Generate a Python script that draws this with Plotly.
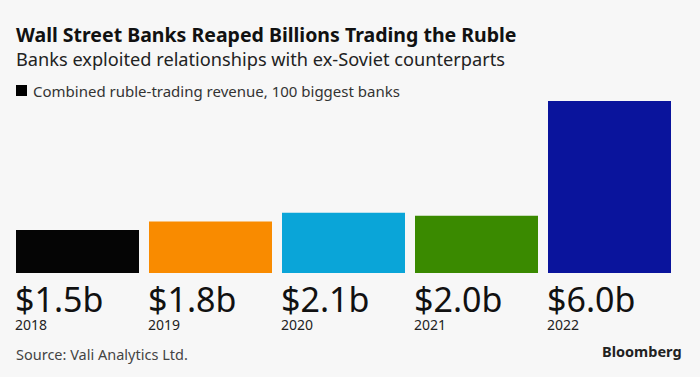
import plotly.graph_objects as go

years = ["2018", "2019", "2020", "2021", "2022"]
revenue = [1.5, 1.8, 2.1, 2.0, 6.0]
value_labels = ["$1.5b", "$1.8b", "$2.1b", "$2.0b", "$6.0b"]
colors = ["#050505", "#f98b00", "#0aa5d8", "#3a8a00", "#0a149c"]

FONT = "Source Sans Pro, Noto Sans, sans-serif"
BG = "#f7f7f7"
bargap = 10 / 133
half = 0.5 - bargap / 2

L, R, T, B = 16, 29, 101, 104
W, H = 700, 377

fig = go.Figure()
xs = list(range(len(years)))
fig.add_trace(go.Bar(x=xs, y=revenue, marker=dict(color=colors, line=dict(width=0)),
                     hoverinfo="skip", showlegend=False))

for i, (lab, yr) in enumerate(zip(value_labels, years)):
    fig.add_annotation(x=i - half, y=0, xref="x", yref="y",
                       text=f"<span style='font-size:34px;color:#111111'>{lab}</span><br>{yr}",
                       showarrow=False, align="left",
                       xanchor="left", yanchor="top", yshift=-1, xshift=-3,
                       font=dict(family=FONT, size=14, color="#222222"))

fig.update_layout(
    width=W, height=H,
    paper_bgcolor=BG, plot_bgcolor=BG,
    margin=dict(l=L, r=R, t=T, b=B),
    bargap=bargap,
    xaxis=dict(range=[-half, len(years) - 1 + half], visible=False, fixedrange=True),
    yaxis=dict(range=[0, 6.0], visible=False, fixedrange=True),
    font=dict(family=FONT),
)


def px(x, y):
    return (x - L) / (W - L - R), (H - B - y) / (H - T - B)


for text, x, y, size, color in [
    ("<span style='font-size:19.5px;color:#111111'><b>Wall Street Banks Reaped Billions Trading the Ruble</b></span>"
     "<br>Banks exploited relationships with ex-Soviet counterparts", 14, 19, 18.2, "#222222"),
    ("Combined ruble-trading revenue, 100 biggest banks", 31, 79, 15, "#333333"),
    ("Source: Vali Analytics Ltd.", 14, 342, 14.5, "#444444"),
    ("<b>Bloomberg</b>", 600, 339, 14.5, "#222222"),
]:
    xp, yp = px(x, y)
    fig.add_annotation(x=xp, y=yp, xref="paper", yref="paper", text=text, showarrow=False,
                       align="left", xanchor="left", yanchor="top",
                       font=dict(family=FONT, size=size, color=color))

x0, y0 = px(16, 85)
x1, y1 = px(27, 96)
fig.add_shape(type="rect", xref="paper", yref="paper", x0=x0, x1=x1, y0=y1, y1=y0,
              fillcolor="#000000", line=dict(width=0))

fig.write_html("out.html", config={"displayModeBar": False},
               post_script="document.body.style.margin='0px';")
